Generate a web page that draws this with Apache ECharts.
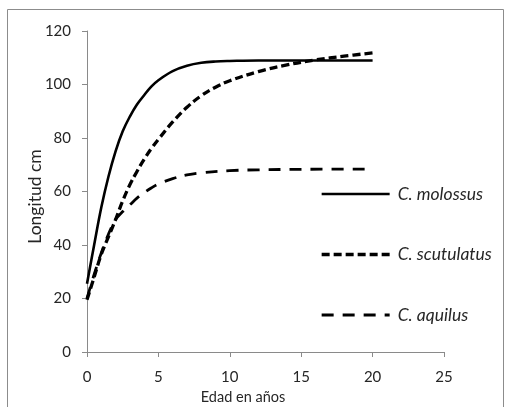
<!DOCTYPE html>
<html>
<head>
<meta charset="utf-8">
<script src="https://cdn.jsdelivr.net/npm/echarts@6/dist/echarts.min.js"></script>
<style>
  html, body { margin: 0; padding: 0; background: #fff; }
  #chart { width: 505px; height: 407px; }
</style>
</head>
<body>
<div id="chart"></div>
<script>
// Growth curves: length (cm) against age (years) for three rattlesnake species
const molossusAge = [0, 0.5, 1, 1.5, 2, 2.5, 3, 3.5, 4, 4.5, 5, 6, 7, 8, 9, 10, 12, 15, 20];
const molossusLen = [25.5, 40, 54, 65.5, 75, 82.5, 88, 92.5, 96, 99.2, 101.6, 105, 107, 108.1, 108.6, 108.8, 109, 109, 109];

const scutulatusAge = [0, 0.5, 1, 1.5, 2, 2.5, 3, 3.5, 4, 4.5, 5, 6, 7, 8, 9, 10, 12, 14, 16, 18, 20];
const scutulatusLen = [19.5, 28, 36.5, 43, 49.5, 56.5, 62.5, 67.5, 72, 76, 79.5, 86, 91.5, 95.8, 99, 101.4, 104.8, 107.3, 109.2, 110.6, 111.8];

const aquilusAge = [0, 0.5, 1, 1.5, 2, 2.5, 3, 3.5, 4, 4.5, 5, 6, 7, 8, 10, 12, 15, 20];
const aquilusLen = [20, 29, 37, 44, 49.5, 52.5, 55, 57.5, 59.5, 61.3, 62.8, 64.8, 66.2, 67, 67.8, 68.1, 68.3, 68.4];

const seriesNames = ['C. molossus', 'C. scutulatus', 'C. aquilus'];
const xTicks = [0, 5, 10, 15, 20, 25];
const yTicks = [0, 20, 40, 60, 80, 100, 120];

const pair = (xs, ys) => xs.map((x, i) => [x, ys[i]]);

const FONT = 'Lato, "Liberation Sans", sans-serif';
const AXIS_GREY = '#8a8a8a';
const TEXT = '#262626';

const lineStyles = [
  { color: '#000', width: 2.6, type: 'solid' },
  { color: '#000', width: 3.3, type: [8, 4] },
  { color: '#000', width: 2.8, type: [12, 9] }
];

const chart = echarts.init(document.getElementById('chart'), null, { renderer: 'canvas' });

chart.setOption({
  animation: false,
  backgroundColor: '#fff',
  grid: { left: 87, right: 61, top: 31, bottom: 55, containLabel: false, outerBoundsMode: 'none' },
  graphic: [{
    type: 'rect',
    shape: { x: 7.5, y: 9.5, width: 496, height: 410 },
    style: { fill: 'none', stroke: '#8c8c8c', lineWidth: 1 },
    silent: true
  }],
  legend: {
    orient: 'vertical',
    left: 320,
    top: 185,
    padding: 0,
    itemWidth: 68,
    itemHeight: 14,
    itemGap: 42.5,
    itemStyle: { opacity: 0 },
    data: seriesNames.map((name, i) => ({
      name,
      lineStyle: { width: lineStyles[i].width, type: lineStyles[i].type, color: '#000' }
    })),
    textStyle: { fontFamily: FONT, fontStyle: 'italic', fontSize: 17.5, color: TEXT, padding: [0, 0, 0, 3] }
  },
  xAxis: {
    type: 'value',
    min: xTicks[0],
    max: xTicks[xTicks.length - 1],
    interval: 5,
    name: 'Edad en años',
    nameLocation: 'middle',
    nameGap: 38,
    nameMoveOverlap: false,
    nameTextStyle: { fontFamily: FONT, fontSize: 14.5, color: TEXT, padding: [0, 45, 0, 0] },
    axisLine: { show: true, lineStyle: { color: AXIS_GREY, width: 1 } },
    axisTick: { show: true, inside: false, length: 5, lineStyle: { color: AXIS_GREY } },
    axisLabel: { fontFamily: FONT, fontSize: 15, color: TEXT, margin: 18 },
    splitLine: { show: false }
  },
  yAxis: {
    type: 'value',
    min: yTicks[0],
    max: yTicks[yTicks.length - 1],
    interval: 20,
    name: 'Longitud cm',
    nameLocation: 'middle',
    nameRotate: 90,
    nameGap: 43,
    nameMoveOverlap: false,
    nameTextStyle: { fontFamily: FONT, fontSize: 17.5, color: TEXT, padding: [0, 10, 0, 0] },
    axisLine: { show: true, lineStyle: { color: AXIS_GREY, width: 1 } },
    axisTick: { show: true, inside: false, length: 5, lineStyle: { color: AXIS_GREY } },
    axisLabel: { fontFamily: FONT, fontSize: 15, color: TEXT, margin: 16 },
    splitLine: { show: false }
  },
  series: seriesNames.map((name, i) => ({
    name,
    type: 'line',
    smooth: 0.4,
    symbol: 'none',
    data: [
      pair(molossusAge, molossusLen),
      pair(scutulatusAge, scutulatusLen),
      pair(aquilusAge, aquilusLen)
    ][i],
    lineStyle: lineStyles[i],
    itemStyle: { color: '#000' }
  }))
});
</script>
</body>
</html>
